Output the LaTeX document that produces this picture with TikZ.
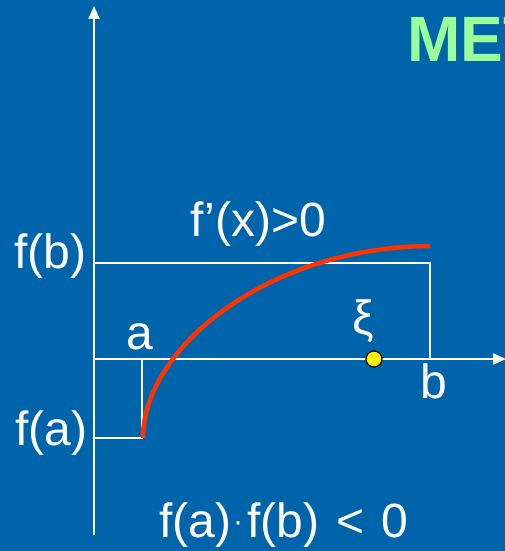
\documentclass[tikz,border=0pt]{standalone}
\usepackage{fontspec}
\setmainfont{Liberation Sans}
\usetikzlibrary{arrows.meta}
\definecolor{bgblue}{RGB}{0,100,170}
\definecolor{titlegreen}{RGB}{153,255,153}
\definecolor{curvered}{RGB}{255,51,0}
\begin{document}
\begin{tikzpicture}[x=1pt,y=-1pt,
  axis/.style={draw=white,line width=2pt,-{Triangle[length=13pt,width=11pt]}},
  guide/.style={draw=white,line width=1.6pt},
  lbl/.style={text=white,font=\fontsize{48}{56}\selectfont,inner sep=0pt,anchor=base west},
  lblc/.style={text=white,font=\fontsize{48}{56}\selectfont,inner sep=0pt,anchor=base},
  ]
\fill[bgblue] (0,0) rectangle (505,551);
\useasboundingbox (0,0) rectangle (505,551);
% title
\node[text=titlegreen,font=\bfseries\fontsize{64}{70}\selectfont,inner sep=0pt,anchor=base west] (title) at (407,62) {MET};
% coordinates
\coordinate (ybot) at (94,535);
\coordinate (ytop) at (94,6);
\coordinate (xleft) at (94,359);
\coordinate (xright) at (506,359);
\coordinate (fb) at (94,263);
\coordinate (bt) at (430,263);
\coordinate (bb) at (430,359);
\coordinate (fa) at (94,438);
\coordinate (at) at (142,359);
\coordinate (ab) at (142,438);
\coordinate (cs) at (143,438);
\coordinate (ce) at (430,246);
% guides
\draw[guide] (fb) -- (bt) -- (bb);
\draw[guide] (fa) -- (ab) -- (at);
% axes
\draw[axis] (ybot) -- (ytop);
\draw[axis] (xleft) -- (xright);
% curve
\draw[curvered,line width=4.5pt] (cs) .. controls (143,348) and (268,247) .. (ce);
% root
\node[circle,fill=yellow,draw=black,line width=1.2pt,minimum size=16pt,inner sep=0pt] (xi) at (374,359) {};
% labels
\node[lbl] (lfb) at (14,268) {f(b)};
\node[lbl] (lfa) at (15,445) {f(a)};
\node[lbl] (lfp) at (190,236) {f’(x)>0};
\node[lblc] (la) at (140,349) {a};
\node[lblc] (lxi) at (363,334) {ξ};
\node[lblc] (lb) at (434,398) {b};
\node[lbl] (lcond) at (159,537) {f(a)\kern2pt\raisebox{6pt}{\fontsize{30}{30}\selectfont·}\kern4pt f(b)\kern4pt{} <\kern4pt{} 0};
\end{tikzpicture}
\end{document}
